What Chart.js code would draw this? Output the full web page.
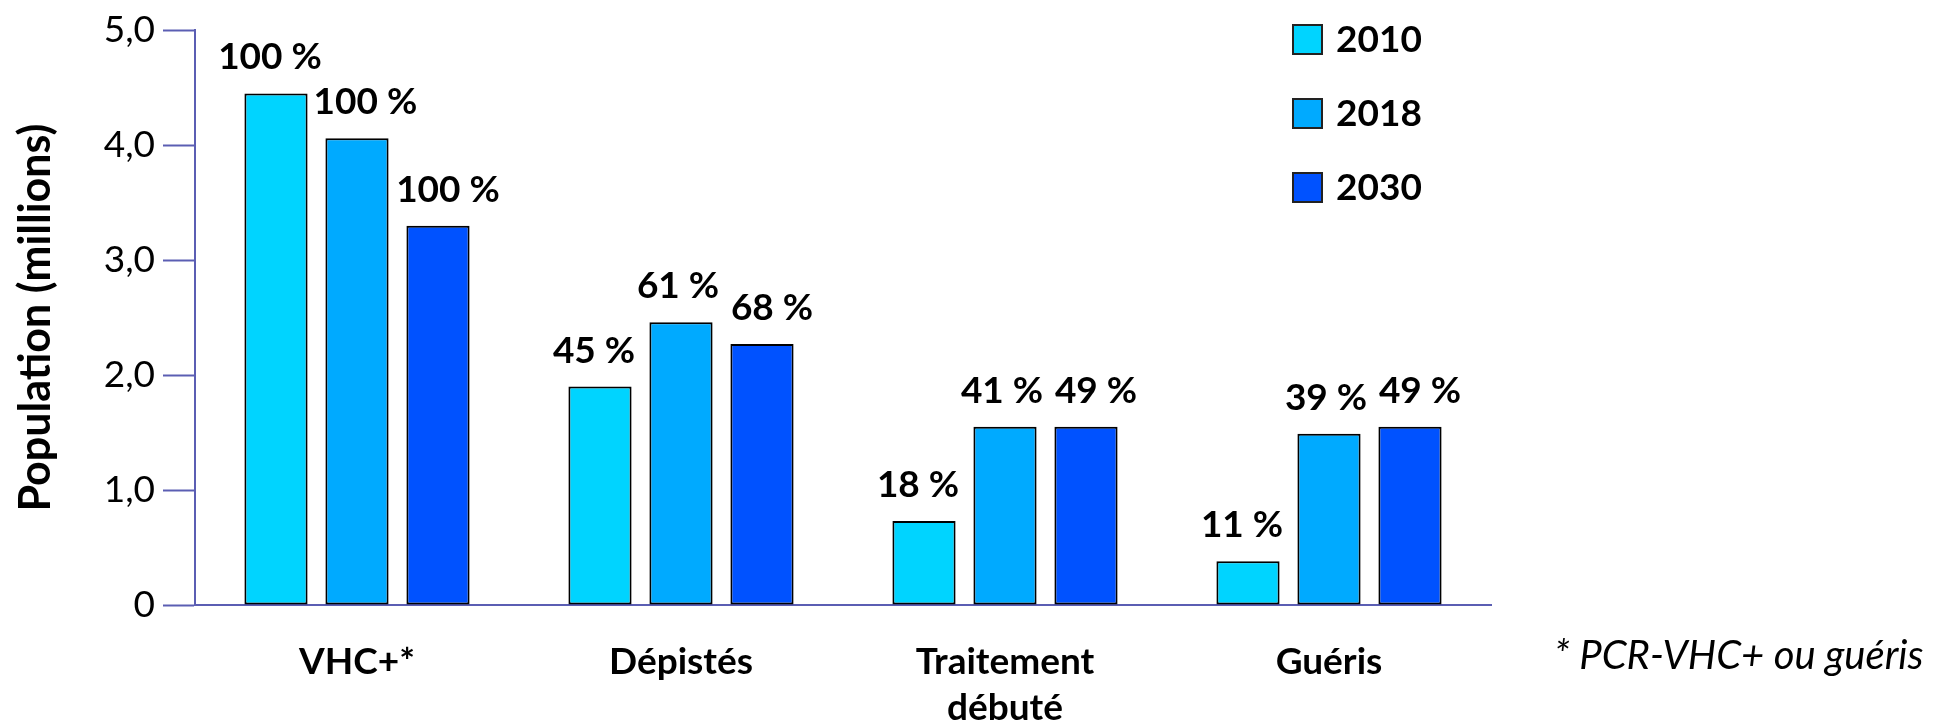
<!DOCTYPE html>
<html lang="fr">
<head>
<meta charset="utf-8">
<title>Population VHC</title>
<script src="https://cdn.jsdelivr.net/npm/chart.js@4.4.1/dist/chart.umd.min.js"></script>
<style>
  html, body { margin: 0; padding: 0; background: #fff; }
  #wrap { width: 1941px; height: 724px; }
</style>
</head>
<body>
<div id="wrap"><canvas id="chart" width="1941" height="724"></canvas></div>
<script>
// Données
const categories = ['VHC+*', 'Dépistés', ['Traitement', 'débuté'], 'Guéris'];
const years = ['2010', '2018', '2030'];
const values2010 = [4.45, 1.90, 0.73, 0.38];
const values2018 = [4.06, 2.46, 1.55, 1.49];
const values2030 = [3.30, 2.27, 1.55, 1.55];
const pct2010 = ['100 %', '45 %', '18 %', '11 %'];
const pct2018 = ['100 %', '61 %', '41 %', '39 %'];
const pct2030 = ['100 %', '68 %', '49 %', '49 %'];
const yTicks = [0, 1, 2, 3, 4, 5];
const footnote = '* PCR-VHC+ ou guéris';

const FONT = 'Lato, "Open Sans", sans-serif';
const AXIS_COLOR = '#5b5eb3';
const colors = ['#00d4ff', '#00aaff', '#0052ff'];
const pctLabels = [pct2010, pct2018, pct2030];
const labelShift = [-6, -3, 10];

// Étiquettes au-dessus des barres (décalées si la barre voisine gêne)
const barLabels = {
    id: 'barLabels',
    afterDatasetsDraw(chart) {
        const ctx = chart.ctx;
        ctx.save();
        ctx.font = 'bold 37px ' + FONT;
        ctx.fillStyle = '#000';
        ctx.textAlign = 'center';
        ctx.textBaseline = 'alphabetic';
        chart.data.datasets.forEach((ds, i) => {
            chart.getDatasetMeta(i).data.forEach((bar, j) => {
                const text = pctLabels[i][j];
                const w = ctx.measureText(text).width;
                const base = bar.y - 24;
                let x = bar.x + labelShift[i];
                if (i > 0) {
                    const prev = chart.getDatasetMeta(i - 1).data[j];
                    const prevRight = prev.x + prev.width / 2;
                    if (prev.y < base + 4 && x - w / 2 < prevRight + 6) {
                        x = prevRight + 6 + w / 2;
                    }
                }
                ctx.fillText(text, x, base);
            });
        });
        ctx.restore();
    }
};

// Légende et note
const sideNotes = {
    id: 'sideNotes',
    afterDraw(chart) {
        const ctx = chart.ctx;
        ctx.save();
        chart.data.datasets.forEach((ds, i) => {
            const y = 25 + i * 74;
            ctx.fillStyle = ds.backgroundColor;
            ctx.fillRect(1293, y, 29, 29);
            ctx.strokeStyle = '#222';
            ctx.lineWidth = 2;
            ctx.strokeRect(1293, y, 29, 29);
            ctx.fillStyle = '#000';
            ctx.font = 'bold 37px ' + FONT;
            ctx.textBaseline = 'alphabetic';
            ctx.fillText(ds.label, 1336, y + 27);
        });
        ctx.font = 'italic 40px ' + FONT;
        ctx.fillStyle = '#000';
        ctx.fillText(footnote, 1554, 669);
        ctx.restore();
    }
};

new Chart(document.getElementById('chart'), {
    type: 'bar',
    data: {
        labels: categories,
        datasets: [values2010, values2018, values2030].map((vals, i) => ({
            label: years[i],
            data: vals,
            backgroundColor: colors[i],
            borderColor: '#000',
            borderWidth: 2,
            borderSkipped: false,
            categoryPercentage: 0.75,
            barPercentage: 0.78
        }))
    },
    options: {
        responsive: false,
        animation: false,
        devicePixelRatio: 1,
        layout: { padding: { left: 0, top: 30, right: 450, bottom: 0 } },
        plugins: {
            legend: { display: false },
            tooltip: { enabled: false }
        },
        scales: {
            x: {
                grid: { display: false },
                border: { color: AXIS_COLOR, width: 2 },
                ticks: {
                    color: '#000',
                    padding: 26,
                    font: { family: FONT, size: 37, weight: 'bold', lineHeight: 1.25 },
                    maxRotation: 0,
                    autoSkip: false
                },
                afterFit: s => { s.height = 119; }
            },
            y: {
                min: 0,
                max: 5,
                afterBuildTicks: s => { s.ticks = yTicks.map(v => ({ value: v })); },
                grid: {
                    drawOnChartArea: false,
                    drawTicks: true,
                    tickLength: 32,
                    tickColor: AXIS_COLOR,
                    tickWidth: 2
                },
                border: { color: AXIS_COLOR, width: 2 },
                ticks: {
                    color: '#000',
                    padding: 8,
                    font: { family: FONT, size: 37 },
                    callback: v => v === 0 ? '0' : v.toFixed(1).replace('.', ',')
                },
                title: {
                    display: true,
                    text: 'Population (millions)',
                    color: '#000',
                    font: { family: FONT, size: 43, weight: 'bold' },
                    padding: { top: 10, bottom: 0 }
                },
                afterFit: s => { s.width = 195; }
            }
        }
    },
    plugins: [barLabels, sideNotes]
});
</script>
</body>
</html>
